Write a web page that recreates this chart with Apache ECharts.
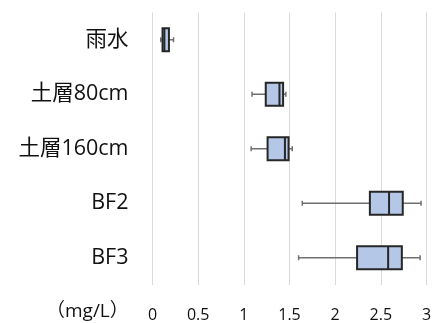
<!DOCTYPE html>
<html><head><meta charset="utf-8">
<script src="https://cdn.jsdelivr.net/npm/echarts@6/dist/echarts.min.js"></script>
<style>html,body{margin:0;padding:0;background:#fff}#c{width:438px;height:323px}</style>
</head><body><div id="c"></div>
<script>
const categories = ['雨水', '土層80cm', '土層160cm', 'BF2', 'BF3'];
const whiskerLow = [0.09, 1.09, 1.08, 1.64, 1.60];
const q1 = [0.11, 1.24, 1.26, 2.38, 2.24];
const median = [0.13, 1.39, 1.45, 2.59, 2.58];
const q3 = [0.18, 1.43, 1.49, 2.74, 2.73];
const whiskerHigh = [0.23, 1.46, 1.53, 2.94, 2.93];
const xTicks = { min: 0, max: 3, interval: 0.5 };
const unitLabel = '（mg/L）';

const data = categories.map((c, i) => [i, whiskerLow[i], q1[i], median[i], q3[i], whiskerHigh[i]]);

const chart = echarts.init(document.getElementById('c'));
const BOX_H = 23, CAP_H = 5;
chart.setOption({
  animation: false,
  grid: { left: 152.5, right: 11.5, top: 12.5, bottom: 35.5 },
  xAxis: {
    type: 'value', min: xTicks.min, max: xTicks.max, interval: xTicks.interval,
    axisLine: { show: false }, axisTick: { show: false },
    splitLine: { lineStyle: { color: '#d9d9d9', width: 1 } },
    axisLabel: { margin: 22, fontSize: 16, color: '#111', fontFamily: '"Open Sans", "Noto Sans", sans-serif' }
  },
  yAxis: {
    type: 'category', data: categories, inverse: true,
    axisLine: { show: false }, axisTick: { show: false },
    axisLabel: { margin: 24, fontSize: 21.5, color: '#111', fontFamily: '"Open Sans", "Noto Sans CJK JP", sans-serif' }
  },
  graphic: [{
    type: 'text', left: 46, top: 302,
    style: { text: unitLabel, fontSize: 19, fill: '#111', fontFamily: '"Open Sans", "Noto Sans CJK JP", sans-serif' }
  }],
  series: [{
    type: 'custom',
    data: data,
    encode: { y: 0, x: [1, 2, 3, 4, 5] },
    renderItem: function (params, api) {
      const ci = api.value(0);
      const pLo = api.coord([api.value(1), ci]);
      const pQ1 = api.coord([api.value(2), ci]);
      const pMed = api.coord([api.value(3), ci]);
      const pQ3 = api.coord([api.value(4), ci]);
      const pHi = api.coord([api.value(5), ci]);
      const y = pLo[1];
      const wStyle = { stroke: '#6f6f6f', lineWidth: 1.5 };
      const bStyle = { stroke: '#262626', lineWidth: 2 };
      return {
        type: 'group',
        children: [
          { type: 'line', shape: { x1: pLo[0], y1: y, x2: pQ1[0], y2: y }, style: wStyle },
          { type: 'line', shape: { x1: pQ3[0], y1: y, x2: pHi[0], y2: y }, style: wStyle },
          { type: 'line', shape: { x1: pLo[0], y1: y - CAP_H / 2, x2: pLo[0], y2: y + CAP_H / 2 }, style: wStyle },
          { type: 'line', shape: { x1: pHi[0], y1: y - CAP_H / 2, x2: pHi[0], y2: y + CAP_H / 2 }, style: wStyle },
          { type: 'rect', shape: { x: pQ1[0], y: y - BOX_H / 2, width: pQ3[0] - pQ1[0], height: BOX_H },
            style: { fill: '#b4c7e7', stroke: '#262626', lineWidth: 2 } },
          { type: 'line', shape: { x1: pMed[0], y1: y - BOX_H / 2, x2: pMed[0], y2: y + BOX_H / 2 }, style: bStyle }
        ]
      };
    }
  }]
});
</script></body></html>
